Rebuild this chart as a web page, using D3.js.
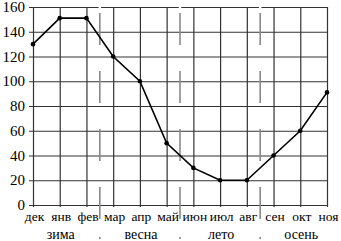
<!DOCTYPE html>
<html>
<head>
<meta charset="utf-8">
<script src="https://cdn.jsdelivr.net/npm/d3@7"></script>
<style>
  body { margin: 0; background: #fff; }
</style>
</head>
<body>
<svg id="chart" width="341" height="241"></svg>
<script>
"use strict";

const months = ["дек", "янв", "фев", "мар", "апр", "май", "июн", "июл", "авг", "сен", "окт", "ноя"];
const values = [130, 151, 151, 120, 100, 50, 30, 20, 20, 40, 60, 91];
const y_ticks = [0, 20, 40, 60, 80, 100, 120, 140, 160];
const seasons = ["зима", "весна", "лето", "осень"];
const season_centers = ["янв", "апр", "июл", "окт"];
// a season boundary sits between these two months
const season_breaks = [["фев", "мар"], ["май", "июн"], ["авг", "сен"]];

const FONT = '"Liberation Serif"';
const svg = d3.select("#chart");
const plot_left = 33, plot_right = 327, plot_top = 7, plot_bottom = 205;

const xScale = d3.scalePoint()
    .domain(months)
    .range([plot_left, plot_right]);
const yScale = d3.scaleLinear()
    .domain([0, 160])
    .range([plot_bottom, plot_top]);

// horizontal grid + y labels
const yAxis = svg.append("g")
    .attr("transform", `translate(${plot_left},0)`)
    .call(d3.axisLeft(yScale)
        .tickValues(y_ticks)
        .tickSizeInner(-(plot_right - plot_left))
        .tickSizeOuter(0)
        .tickPadding(8));
yAxis.select(".domain").remove();
yAxis.selectAll(".tick line")
    .attr("x1", -4)
    .attr("stroke", "#333")
    .attr("stroke-width", 1.2);
yAxis.selectAll(".tick text")
    .attr("fill", "#000")
    .attr("dy", "0.3em")
    .style("font-family", FONT)
    .style("font-size", "15px");

// vertical grid + month labels
const xAxis = svg.append("g")
    .attr("transform", `translate(0,${plot_bottom})`)
    .call(d3.axisBottom(xScale)
        .tickSizeInner(-(plot_bottom - plot_top))
        .tickSizeOuter(0)
        .tickPadding(6));
xAxis.select(".domain").remove();
xAxis.selectAll(".tick line")
    .attr("y1", 2)
    .attr("stroke", "#333")
    .attr("stroke-width", 1.2);
xAxis.selectAll(".tick text")
    .attr("fill", "#000")
    .attr("x", 1)
    .attr("dy", "0.71em")
    .style("font-family", FONT)
    .style("font-size", "13.5px");

// season dividers (grey dashed)
for (let pair of season_breaks) {
    let bx = (xScale(pair[0]) + xScale(pair[1])) / 2;
    svg.append("line")
        .attr("x1", bx).attr("x2", bx)
        .attr("y1", 3).attr("y2", 12)
        .attr("stroke", "#fff")
        .attr("stroke-width", 2.5);
    svg.append("line")
        .attr("x1", bx).attr("x2", bx)
        .attr("y1", 13).attr("y2", 241)
        .attr("stroke", "#8a8a8a")
        .attr("stroke-width", 1.6)
        .attr("stroke-dasharray", "32,26,32,26,32,26,32,18,2,100");
}

// season labels
svg.append("g")
    .selectAll("text")
    .data(seasons)
    .join("text")
    .attr("x", (d, i) => xScale(season_centers[i]) + 1)
    .attr("y", 239)
    .attr("text-anchor", "middle")
    .style("font-family", FONT)
    .style("font-size", "14px")
    .text(d => d);

// the line
const line = d3.line()
    .x((d, i) => xScale(months[i]))
    .y(d => yScale(d));
svg.append("path")
    .datum(values)
    .attr("d", line)
    .attr("fill", "none")
    .attr("stroke", "#000")
    .attr("stroke-width", 1.6);

svg.append("g")
    .selectAll("circle")
    .data(values)
    .join("circle")
    .attr("cx", (d, i) => xScale(months[i]))
    .attr("cy", d => yScale(d))
    .attr("r", 2.3)
    .attr("fill", "#000");
</script>
</body>
</html>
